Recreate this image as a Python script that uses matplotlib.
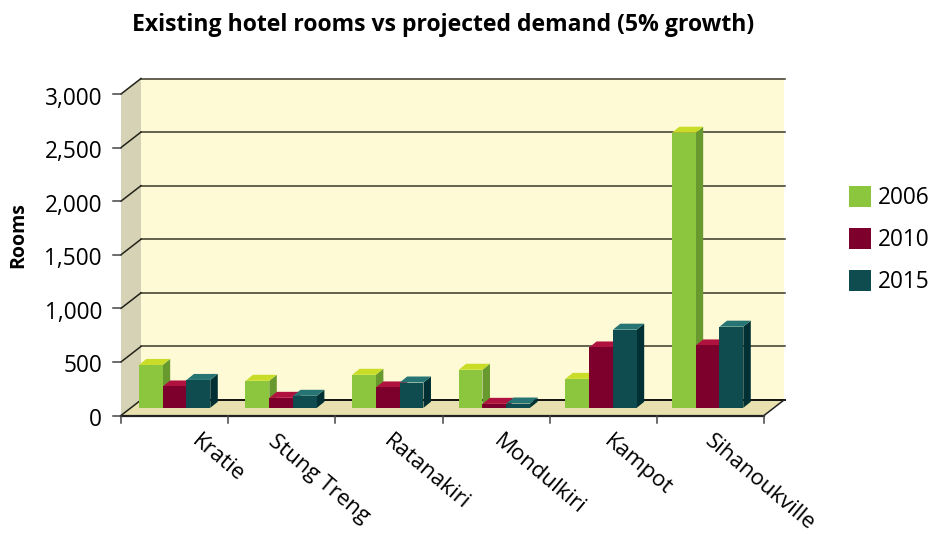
import matplotlib
matplotlib.use("Agg")
import matplotlib.pyplot as plt
from matplotlib.patches import Polygon, Patch

categories = ["Kratie", "Stung Treng", "Ratanakiri", "Mondulkiri", "Kampot", "Sihanoukville"]
series_names = ["2006", "2010", "2015"]
rooms_2006 = [400, 252, 308, 355, 270, 2567]
rooms_2010 = [199, 93, 190, 37, 563, 582]
rooms_2015 = [260, 112, 236, 40, 729, 757]
y_ticks = [0, 500, 1000, 1500, 2000, 2500, 3000]

front = ["#8CC63F", "#7D002C", "#0F4C4F"]
top = ["#C8DC28", "#B0123F", "#267473"]
side = ["#67992E", "#5A001E", "#003033"]

plt.rcParams["font.family"] = ["Open Sans", "DejaVu Sans"]
W, H = 933, 534
fig = plt.figure(figsize=(W / 100, H / 100), dpi=100)
L, R, T, B = 121, 764, 94, 415.5
ax = fig.add_axes([L / W, 1 - B / H, (R - L) / W, (B - T) / H])
ax.set_xlim(0, 6)
ax.set_ylim(0, 3000)
ax.axis("off")

px_x = 6 / (R - L)
px_y = 3000 / (B - T)
wall_dx, wall_dy = 20 * px_x, 15.5 * px_y
base_dy = 7.7 * px_y
bar_w = 23.8 * px_x
bar_dx, bar_dy = 7.5 * px_x, 6 * px_y
group_step = 106.6 * px_x
kw = dict(clip_on=False, lw=0)

# walls
ax.add_patch(Polygon([(wall_dx, wall_dy), (6 + wall_dx, wall_dy), (6 + wall_dx, 3000 + wall_dy), (wall_dx, 3000 + wall_dy)], fc="#FEFAD6", zorder=1, **kw))
ax.add_patch(Polygon([(0, 0), (wall_dx, wall_dy), (wall_dx, 3000 + wall_dy), (0, 3000)], fc="#D5D2B5", zorder=1, **kw))
ax.add_patch(Polygon([(0, 0), (6, 0), (6 + wall_dx, wall_dy), (wall_dx, wall_dy)], fc="#E8E0AE", zorder=1, **kw))

# gridlines and ticks
for v in y_ticks:
    ax.plot([wall_dx, 6 + wall_dx * 1.05], [v + wall_dy] * 2, color="#111111" if v == 0 else "#3A3828",
            lw=1.4 if v == 0 else 1.1, clip_on=False, zorder=2)
    ax.plot([0, wall_dx], [v, v + wall_dy], color="#222218", lw=1.1, clip_on=False, zorder=2)
    ax.plot([-8 * px_x, 0], [v, v], color="#444444", lw=1.1, clip_on=False, zorder=2)
    ax.annotate(f"{v:,}", (0, v), xytext=(-19, -1.5), textcoords="offset pixels", ha="right",
                va="center_baseline", fontsize=16.3, color="black", annotation_clip=False)
ax.plot([0, 6], [0, 0], color="#222222", lw=1.6, clip_on=False, zorder=2)
ax.plot([6, 6 + wall_dx], [0, wall_dy], color="#222222", lw=1.1, clip_on=False, zorder=2)
for i in range(7):
    ax.plot([i, i], [0, -7 * px_y], color="#444444", lw=1.1, clip_on=False, zorder=2)

# bars
label_shift = [43, 37, 37, 43, 35, 49]
z = 3
for i, cat in enumerate(categories):
    for s, vals in enumerate([rooms_2006, rooms_2010, rooms_2015]):
        x0 = 0.5 + i * group_step + (s - 1.5) * bar_w
        x1 = x0 + bar_w
        y0, y1 = base_dy, base_dy + vals[i]
        ax.add_patch(Polygon([(x1, y0), (x1 + bar_dx, y0 + bar_dy), (x1 + bar_dx, y1 + bar_dy), (x1, y1)], fc=side[s], zorder=z, **kw))
        ax.add_patch(Polygon([(x0, y1), (x1, y1), (x1 + bar_dx, y1 + bar_dy), (x0 + bar_dx, y1 + bar_dy)], fc=top[s], zorder=z, **kw))
        ax.add_patch(Polygon([(x0, y0), (x1, y0), (x1, y1), (x0, y1)], fc=front[s], zorder=z, **kw))
        z += 1
    ax.annotate(cat, (i + 0.5, 0), xytext=(label_shift[i], -15), textcoords="offset pixels", rotation=-40,
                ha="center", va="top", fontsize=16, color="black", annotation_clip=False)

fig.text(443 / W, 1 - 25 / H, "Existing hotel rooms vs projected demand (5% growth)",
         ha="center", va="center", fontsize=16.6, fontweight="bold")
fig.text(18 / W, 1 - 235.5 / H, "Rooms", rotation=90, ha="center", va="center", fontsize=14, fontweight="bold")

handles = [Patch(fc=c, lw=0) for c in front]
fig.legend(handles, series_names, loc="center left", bbox_to_anchor=(842 / W, 1 - 240 / H),
           frameon=False, fontsize=16.3, handlelength=1.0, handleheight=1.05,
           handletextpad=0.3, labelspacing=0.77, borderpad=0.3, borderaxespad=0)

fig.savefig("out.png", dpi=100)
